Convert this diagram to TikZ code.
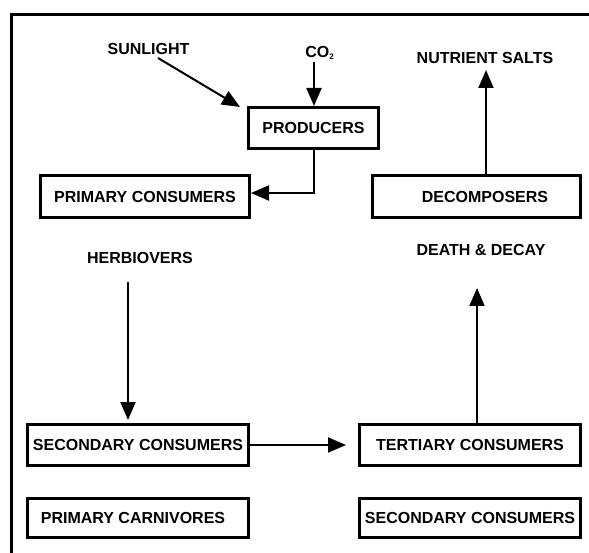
\documentclass[tikz,border=0pt]{standalone}
\usepackage{fontspec}
\setmainfont{Liberation Sans}
\usetikzlibrary{arrows.meta}
\begin{document}
\begin{tikzpicture}[x=1pt,y=-1pt,
  every node/.style={font=\fontsize{16}{19}\selectfont\bfseries, inner sep=0pt},
  box/.style={draw, line width=3pt, minimum width=221pt, minimum height=41pt},
  arr/.style={line width=2pt, -{Triangle[length=18pt,width=15pt]}},
  frame/.style={line width=3pt}]
\useasboundingbox (0,0) rectangle (589,553);

% open frame along the left and top
\draw[frame] (11,560) -- (11,15) -- (595,15);

% boxes
\node[box, minimum width=130pt] (prod) at (313.5,128) {PRODUCERS};
\node[box, minimum width=209pt, minimum height=42pt] (prim) at (145,196.5) {PRIMARY CONSUMERS};
\node[box, minimum width=208pt, minimum height=42pt,
      label={[xshift=8.5pt]center:DECOMPOSERS}] (decomp) at (476.5,196.5) {};
\node[box] (sec) at (138,445) {SECONDARY CONSUMERS};
\node[box] (tert) at (470,445) {TERTIARY CONSUMERS};
\node[box, minimum height=39pt,
      label={[xshift=-5pt]center:PRIMARY CARNIVORES}] (carn) at (138,518) {};
\node[box, minimum height=39pt] (sec2) at (470,518) {SECONDARY CONSUMERS};

% free-standing labels
\node (sun) at (148.5,49) {SUNLIGHT};
\node[anchor=base] (co2) at (319.5,57.7) {CO\raisebox{-2pt}{\fontsize{8}{8}\selectfont 2}};
\node (nut) at (485,58) {NUTRIENT SALTS};
\node (herb) at (140,258) {HERBIOVERS};
\node (death) at (481,250) {DEATH \& DECAY};

% arrow ends
\coordinate (suntail) at (158,58);
\coordinate (co2tail) at (314,62);
\coordinate (herbtail) at (128,282);
\coordinate (deathtip) at (477,288);
\coordinate (nuttip) at (486,70);

% connectors
\draw[arr] (suntail) -- ([shift={(-7,1)}]prod.north west);
\draw[arr] (co2tail) -- (co2tail |- prod.north);
\draw[arr] (prod.south) |- ([yshift=3.5pt]prim.east);
\draw[arr] (nuttip |- decomp.north) -- (nuttip);
\draw[arr, shorten >=3pt] (herbtail) -- (herbtail |- sec.north);
\draw[arr, shorten >=12pt] (sec.east) -- (tert.west);
\draw[arr] (deathtip |- tert.north) -- (deathtip);
\end{tikzpicture}
\end{document}
